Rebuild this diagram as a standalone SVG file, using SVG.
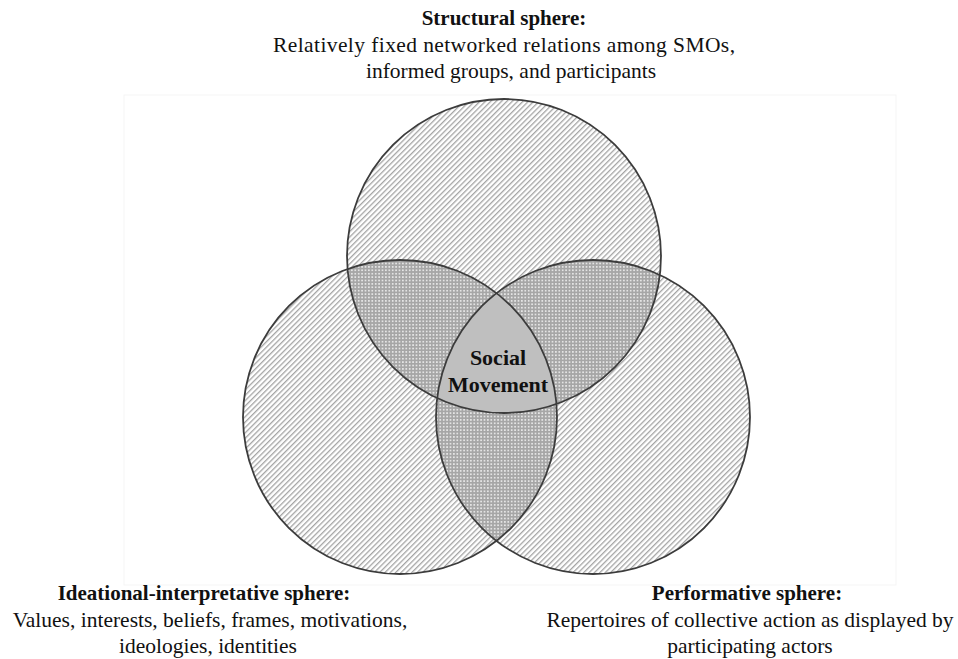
<svg xmlns="http://www.w3.org/2000/svg" width="958" height="659" viewBox="0 0 958 659">
<defs>
<style>
text{font-family:"Liberation Serif","Times New Roman",Times,serif;fill:#111;text-anchor:middle}
.t{font-size:21px;font-weight:bold}
.b{font-size:21.5px}
.c{font-size:22px;font-weight:bold}
.ring{fill:none;stroke:#3c3c3c;stroke-width:1.8}
</style>
<pattern id="hatch" width="3.8" height="3.8" patternUnits="userSpaceOnUse" patternTransform="rotate(45)">
<rect width="3.8" height="3.8" fill="#fff"/>
<rect width="1.3" height="3.8" fill="#a4a4a4"/>
</pattern>
<pattern id="cross" width="3.4" height="3.4" patternUnits="userSpaceOnUse">
<rect width="3.4" height="3.4" fill="#a6a6a6"/>
<circle cx="1.7" cy="1.7" r="0.95" fill="#f2f2f2"/>
</pattern>
<clipPath id="cT"><circle cx="504" cy="256" r="157"/></clipPath>
<clipPath id="cL"><circle cx="400" cy="417" r="157"/></clipPath>
<clipPath id="cR"><circle cx="593" cy="417" r="157"/></clipPath>
</defs>
<rect width="958" height="659" fill="#fff"/>
<rect x="124" y="95" width="772" height="490" fill="none" stroke="#f5f5f5" stroke-width="1"/>
<g id="structural">
<circle cx="504" cy="256" r="157" fill="url(#hatch)"/>
<text class="t" x="504" y="25">Structural sphere:</text>
<text class="b" x="504" y="52" textLength="462" lengthAdjust="spacing">Relatively fixed networked relations among SMOs,</text>
<text class="b" x="511" y="78">informed groups, and participants</text>
</g>
<g id="ideational">
<circle cx="400" cy="417" r="157" fill="url(#hatch)"/>
<text class="t" x="204" y="600">Ideational-interpretative sphere:</text>
<text class="b" x="210" y="627">Values, interests, beliefs, frames, motivations,</text>
<text class="b" x="208" y="653">ideologies, identities</text>
</g>
<g id="performative">
<circle cx="593" cy="417" r="157" fill="url(#hatch)"/>
<text class="t" x="747" y="600">Performative sphere:</text>
<text class="b" x="750" y="627">Repertoires of collective action as displayed by</text>
<text class="b" x="750" y="653">participating actors</text>
</g>
<g id="overlaps">
<circle cx="400" cy="417" r="157" fill="url(#cross)" clip-path="url(#cT)"/>
<circle cx="593" cy="417" r="157" fill="url(#cross)" clip-path="url(#cT)"/>
<circle cx="593" cy="417" r="157" fill="url(#cross)" clip-path="url(#cL)"/>
</g>
<g id="social-movement">
<g clip-path="url(#cT)"><circle cx="593" cy="417" r="157" fill="#bfbfbf" clip-path="url(#cL)"/></g>
<text class="c" x="498" y="365">Social</text>
<text class="c" x="498" y="392">Movement</text>
</g>
<g id="connectors">
<circle class="ring" cx="504" cy="256" r="157"/>
<circle class="ring" cx="400" cy="417" r="157"/>
<circle class="ring" cx="593" cy="417" r="157"/>
</g>
</svg>
